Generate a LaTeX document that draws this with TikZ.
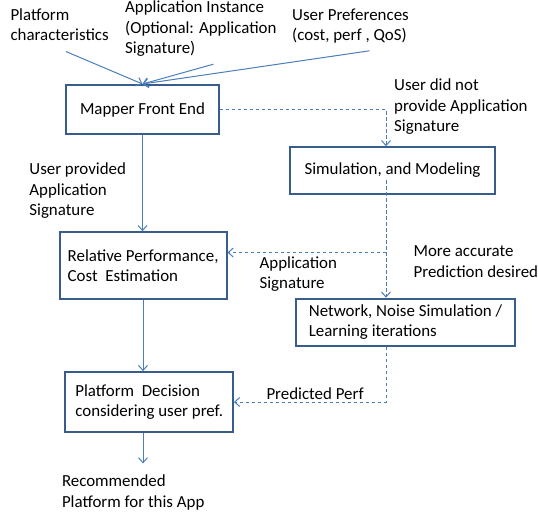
\documentclass[tikz,border=0pt]{standalone}
\usepackage{fontspec}
\setmainfont{Carlito}
\usetikzlibrary{arrows.meta}
\definecolor{boxline}{RGB}{56,93,138}
\definecolor{flowline}{RGB}{74,126,187}

\begin{document}
\begin{tikzpicture}
[
    x = 1pt, y = -1pt,
    every node/.style = { font = \fontsize{16.9}{20.5}\selectfont, align = left},
    box/.style = { draw = boxline, line width = 2pt, inner sep = 0pt},
    lbl/.style = { anchor = base west, inner sep = 0pt},
    flow/.style = { draw = flowline, line width = 1pt, -{Straight Barb[length=5pt,width=9pt]}},
    dflow/.style = { flow, dash pattern = on 3.5pt off 2.5pt}
]
\useasboundingbox (0,0) rectangle (538,512);

\node[box, minimum width = 152.7pt, minimum height = 49pt] (mapper) at (142.5,109.5) {Mapper Front End};
\node[box, minimum width = 205pt, minimum height = 46.3pt] (sim) at (392.5,170.4) {Simulation, and Modeling};
\node[box, minimum width = 166.8pt, minimum height = 67pt] (rel) at (143.1,265.7) {Relative Performance,\\Cost\ \ Estimation};
\node[box, minimum width = 218.3pt, minimum height = 47pt] (net) at (405.5,322.2) {Network, Noise Simulation /\\Learning iterations};
\node[box, minimum width = 167.5pt, minimum height = 59.7pt] (plat) at (149.2,402) {Platform\ \ Decision\\considering user pref.};

\node[lbl] (pc) at (10.3,40.5) {Platform\\characteristics};
\node[lbl] (ai) at (125,53.5) {Application Instance\\(Optional: Application\\Signature)};
\node[lbl] (up) at (292,40.5) {User Preferences\\(cost, perf , QoS)};
\node[lbl] (nosig) at (394,131.5) {User did not\\provide Application\\Signature};
\node[lbl] (usig) at (29.2,215.6) {User provided\\Application\\Signature};
\node[lbl] (more) at (413.4,277) {More accurate\\Prediction desired};
\node[lbl] (appsig) at (259.4,288.5) {Application\\Signature};
\node[lbl] (pred) at (266.3,399.6) {Predicted Perf};
\node[lbl] (rec) at (61.8,507) {Recommended\\Platform for this App};

\coordinate (pcend) at (65.9,51.5);
\coordinate (aiend) at (213.4,64.2);
\coordinate (upend) at (369.5,50.8);
\coordinate (bus) at (386,180);
\coordinate (split) at (386,252.5);
\coordinate (recin) at (143,463.4);

\draw[flow] (pcend) -- (mapper.north);
\draw[flow] (aiend) -- (mapper.north);
\draw[flow] (upend) -- (mapper.north);
\draw[flow] (mapper.south) -- (mapper.south |- rel.north);
\draw[flow] (rel.south -| recin) -- (recin |- plat.north);
\draw[flow] (recin |- plat.south) -- (recin);

\draw[dflow] (mapper.east) -| (bus |- sim.north);
\draw[dflow] (bus) -- (bus |- net.north);
\draw[dflow] (split) -- (split -| rel.east);
\draw[dflow] (bus |- net.south) |- (plat.east);
\end{tikzpicture}
\end{document}
